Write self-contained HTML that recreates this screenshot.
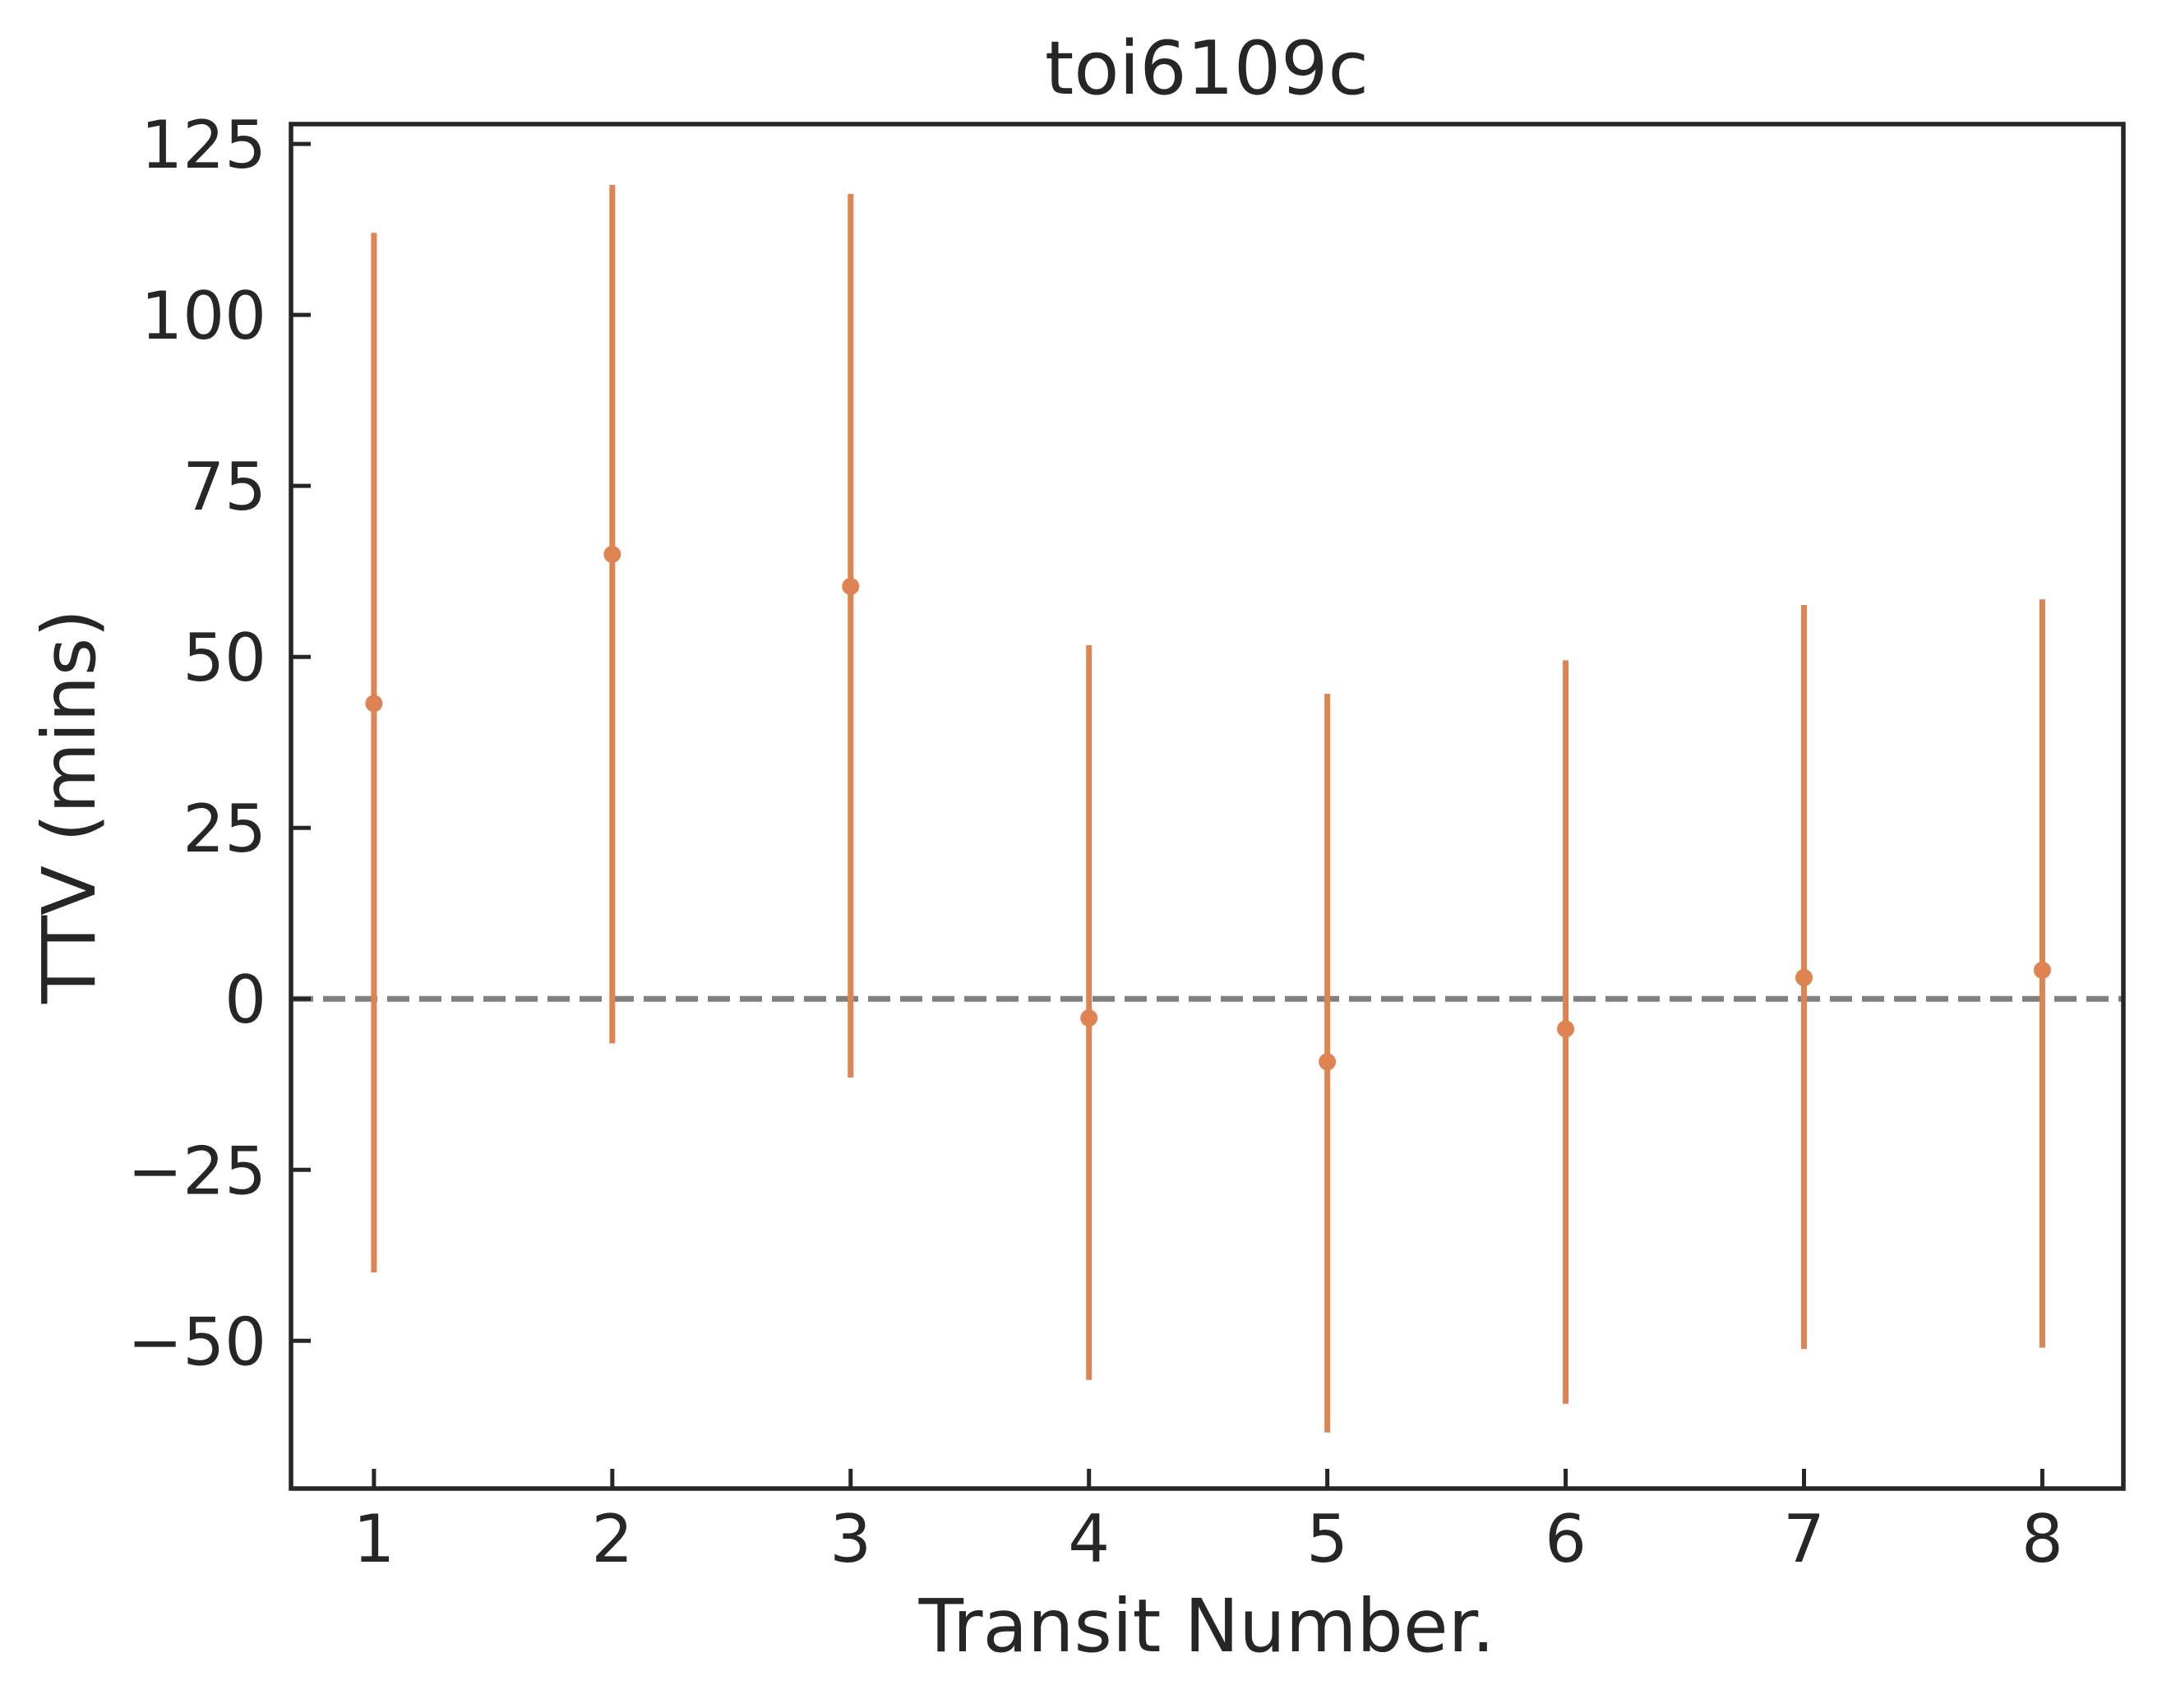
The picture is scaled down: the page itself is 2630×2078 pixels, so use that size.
<!DOCTYPE html>
<html><head><meta charset="utf-8"><style>
html,body{margin:0;padding:0;background:#fff}
svg text{font-family:"DejaVu Sans","Liberation Sans",sans-serif;fill:#262626}
</style></head><body>
<svg id="chart" width="2630" height="2073" viewBox="0 0 2630 2073" xmlns="http://www.w3.org/2000/svg">
<rect width="2630" height="2073" fill="#fff"/>
<g id="plot"></g>
<text x="1468" y="114" font-size="90" text-anchor="middle">toi6109c</text>
<text x="1468" y="2009" font-size="89" text-anchor="middle">Transit Number.</text>
<text x="0" y="0" font-size="89" text-anchor="middle" transform="translate(115,981) rotate(-90)">TTV (mins)</text>
</svg>
<script>
const categories = [1,2,3,4,5,6,7,8];
const ttv = [43.2, 65.0, 60.3, -2.8, -9.2, -4.4, 3.1, 4.2];
const errUpper = [112.0, 119.0, 117.7, 51.7, 44.6, 49.5, 57.6, 58.4];
const errLower = [-40.0, -6.5, -11.5, -55.7, -63.4, -59.2, -51.2, -51.0];
const xTicks = [1,2,3,4,5,6,7,8];
const yTicks = [-50,-25,0,25,50,75,100,125];
const yTickLabels = ["\u221250","\u221225","0","25","50","75","100","125"];

const L=354,R=2583,T=151,B=1811;
const xMin=0.652,xMax=8.34,yMin=-71.6,yMax=127.9;
const X=v=>L+(v-xMin)/(xMax-xMin)*(R-L);
const Y=v=>B-(v-yMin)/(yMax-yMin)*(B-T);
const NS="http://www.w3.org/2000/svg";
const g=document.getElementById('plot');
function mk(tag,attrs){const e=document.createElementNS(NS,tag);for(const k in attrs)e.setAttribute(k,attrs[k]);g.appendChild(e);return e;}

let z=mk('line',{x1:L,x2:R,y1:Y(0),y2:Y(0),stroke:'#808080','stroke-width':7,'stroke-dasharray':'27 12'});



categories.forEach((c,i)=>{
  const eb=mk('line',{x1:X(c),x2:X(c),y1:Y(errUpper[i]),y2:Y(errLower[i]),stroke:'#dd8452','stroke-width':7});
  
  
  const p=mk('circle',{cx:X(c),cy:Y(ttv[i]),r:10.5,fill:'#dd8452'});
  
  
});

xTicks.forEach(t=>{
  const tk=mk('line',{x1:X(t),x2:X(t),y1:B,y2:B-24,stroke:'#262626','stroke-width':5});
  
  
  const tx=mk('text',{x:X(t),y:1900,'font-size':80,'text-anchor':'middle'});
  tx.textContent=t;
  
  
});
yTicks.forEach((t,i)=>{
  const tk=mk('line',{x1:L,x2:L+24,y1:Y(t),y2:Y(t),stroke:'#262626','stroke-width':5});
  
  
  const tx=mk('text',{x:324,y:Y(t)+29,'font-size':80,'text-anchor':'end'});
  tx.textContent=yTickLabels[i];
  
  
});

const fr=mk('rect',{x:L,y:T,width:R-L,height:B-T,fill:'none',stroke:'#262626','stroke-width':5.5});


</script>
</body></html>
